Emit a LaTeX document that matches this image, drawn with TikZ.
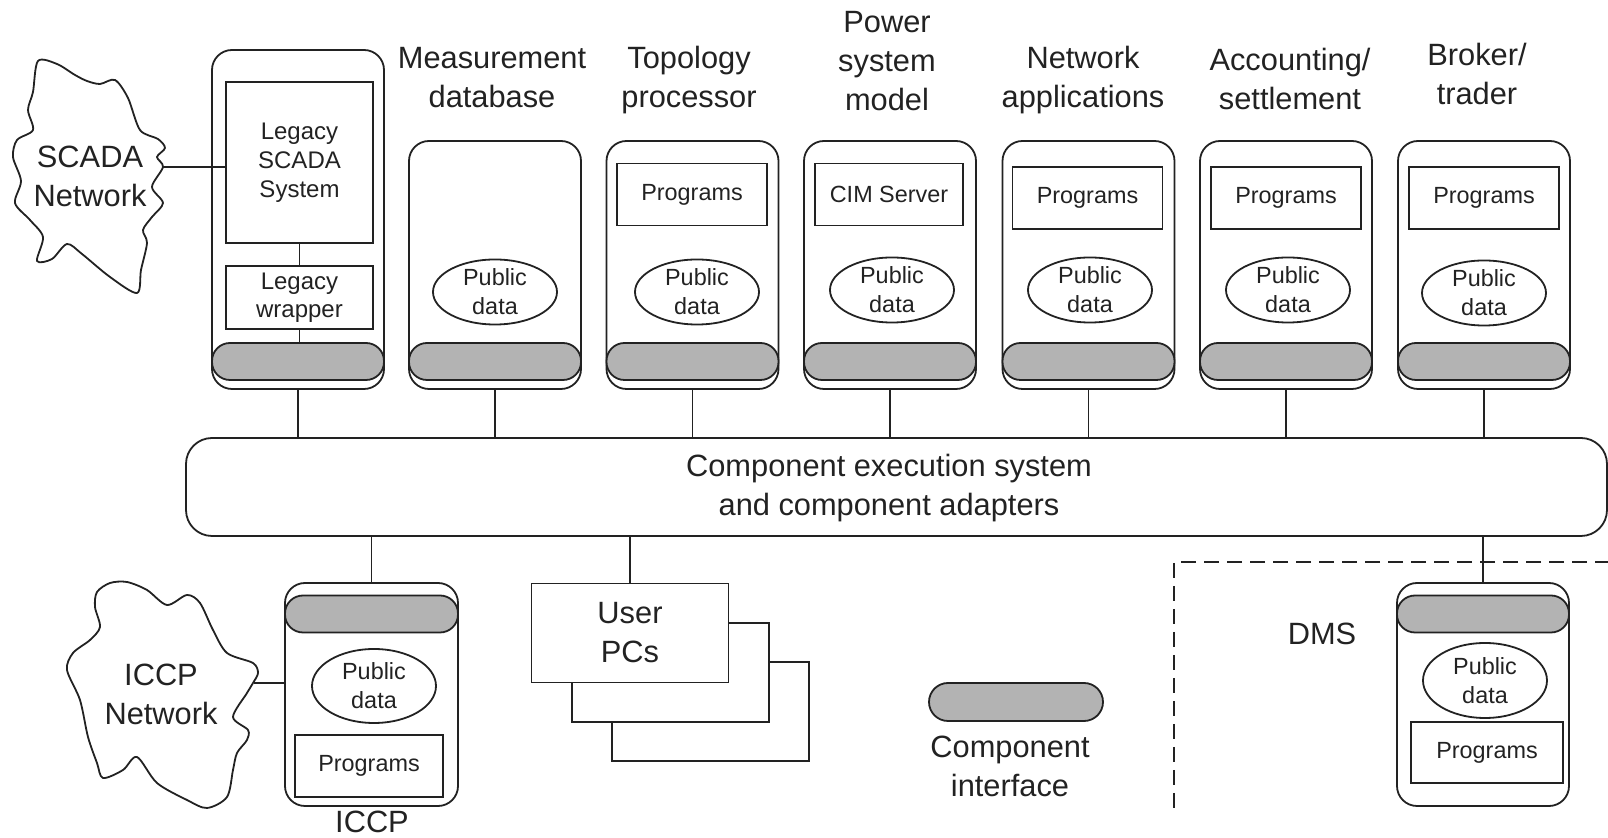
\documentclass[tikz,border=0pt]{standalone}
\usepackage{fontspec}
\setmainfont{Liberation Sans}
\usetikzlibrary{shapes.geometric}
\definecolor{ink}{HTML}{222222}
\definecolor{pillgray}{HTML}{B3B3B3}
\tikzset{
  big/.style={font=\fontsize{15.4}{19.5}\selectfont, align=center, inner sep=0pt},
  small/.style={font=\fontsize{11.7}{14.4}\selectfont, align=center},
  legtext/.style={font=\fontsize{12}{14.6}\selectfont, align=center},
  compbox/.style={draw, rectangle, rounded corners=10pt, minimum width=86pt, inner sep=0pt, outer sep=0pt},
  pill/.style={draw, fill=pillgray, rectangle, rounded corners=9pt, minimum width=86pt, minimum height=18.5pt, inner sep=0pt, outer sep=0pt},
  pubdata/.style={draw, ellipse, small, minimum width=62pt, minimum height=31pt, inner sep=0pt, outer sep=0pt},
  progbox/.style={draw, rectangle, small, minimum width=75pt, minimum height=31pt, inner sep=0pt, outer sep=0pt},
  pcbox/.style={draw, fill=white, rectangle, minimum width=98.5pt, minimum height=49.5pt, inner sep=0pt, outer sep=0pt},
  cloudline/.style={line join=round},
}
\begin{document}
\begin{tikzpicture}[x=0.5pt,y=-0.5pt, line width=0.9pt, color=ink]
\useasboundingbox (0,0) rectangle (1608,838);

% ---------- bus ----------
\node[draw, rectangle, rounded corners=13pt, minimum width=710.5pt, minimum height=49pt, inner sep=0pt, outer sep=0pt] (bus) at (896.5,487) {};
\node[big, anchor=north] (bustext) at (889,453) {Component execution system\\and component adapters};

% ---------- SCADA cloud ----------
\draw[cloudline] plot[smooth cycle, tension=0.5] coordinates {
  (38,61) (57,64) (75,75) (87,81) (100,84) (115,80) (128,98) (140,130) (158,139) (165,148)
  (157,157) (163,167) (152,187) (163,203) (152,217) (143,230) (147,243) (141,270) (137,293)
  (110,277) (82,254) (67,244) (52,259) (37,261) (43,237) (30,220) (15,203) (21,181) (13,157)
  (17,140) (33,130) (28,110) (33,92)};
\node[big, anchor=north] (scadatext) at (90,145) {SCADA\\Network};
\coordinate (scadaR) at (162,167);

% ---------- top components ----------
% Legacy
\node[compbox, minimum height=169.5pt] (legacy) at (298,219.5) {};
\node[pill] (legacyif) at (298,361.5) {};
\node[draw, rectangle, legtext, minimum width=73.5pt, minimum height=80.5pt, inner sep=0pt, outer sep=0pt] (scada) at (299.5,162.5) {Legacy\\SCADA\\System};
\node[draw, rectangle, font=\fontsize{12}{14}\selectfont, align=center, minimum width=73.5pt, minimum height=31.5pt, inner sep=0pt, outer sep=0pt] (wrapper) at (299.5,297.5) {Legacy\\wrapper};
\draw (scada.south) -- (wrapper.north);
\draw (wrapper.south) -- (wrapper.south |- legacyif.north);
\draw (scadaR) -- (scadaR -| scada.west);

% Measurement database
\node[compbox, minimum height=124pt] (meas) at (495,265) {};
\node[pill] (measif) at (495,361.5) {};
\node[pubdata] (measpd) at (495,292) {Public\\data};
\node[big, anchor=north] (meastitle) at (492,46.5) {Measurement\\database};

% Topology processor
\node[compbox, minimum height=124pt] (topo) at (692.5,265) {};
\node[pill] (topoif) at (692.5,361.5) {};
\node[progbox] (topoprog) at (692,194.5) {Programs};
\node[pubdata] (topopd) at (697,292) {Public\\data};
\node[big, anchor=north] (topotitle) at (689,45.5) {Topology\\processor};

% Power system model
\node[compbox, minimum height=124pt] (power) at (890,265) {};
\node[pill] (powerif) at (890,361.5) {};
\node[progbox, minimum width=74pt] (cim) at (889,194.5) {CIM Server};
\node[pubdata] (powerpd) at (892,290) {Public\\data};
\node[big, anchor=north] (powertitle) at (887,10.5) {Power\\system\\model};

% Network applications
\node[compbox, minimum height=124pt] (netapp) at (1088.5,265) {};
\node[pill] (netappif) at (1088.5,361.5) {};
\node[progbox] (netappprog) at (1087.5,198) {Programs};
\node[pubdata] (netapppd) at (1090,290) {Public\\data};
\node[big, anchor=north] (netapptitle) at (1083,45.5) {Network\\applications};

% Accounting / settlement
\node[compbox, minimum height=124pt] (acct) at (1286,265) {};
\node[pill] (acctif) at (1286,361.5) {};
\node[progbox] (acctprog) at (1286,198) {Programs};
\node[pubdata] (acctpd) at (1288,290) {Public\\data};
\node[big, anchor=north] (accttitle) at (1290,47.5) {Accounting/\\settlement};

% Broker / trader
\node[compbox, minimum height=124pt] (broker) at (1484,265) {};
\node[pill] (brokerif) at (1484,361.5) {};
\node[progbox] (brokerprog) at (1484,198) {Programs};
\node[pubdata] (brokerpd) at (1484,293) {Public\\data};
\node[big, anchor=north] (brokertitle) at (1477,42.5) {Broker/\\trader};

% connectors to bus
\foreach \n in {legacy,meas,topo,power,netapp,acct,broker}
  \draw (\n.south) -- (\n.south |- bus.north);

% ---------- ICCP ----------
\draw[cloudline] plot[smooth cycle, tension=0.5] coordinates {
  (97,592) (110,583) (127,582) (147,590) (167,605) (187,595) (200,603) (213,630) (227,653)
  (253,663) (258,673) (253,683) (247,693) (233,717) (248,730) (247,740) (237,753) (233,770)
  (227,797) (207,808) (187,800) (157,783) (137,757) (123,770) (103,778) (97,763) (88,737)
  (80,700) (67,670) (73,653) (90,640) (100,627) (95,607)};
\node[big, anchor=north] (iccptext) at (161,663) {ICCP\\Network};
\coordinate (iccpR) at (254,683);

\node[compbox, minimum width=86.5pt, minimum height=111.5pt] (iccp) at (371.5,694.5) {};
\node[pill, minimum width=86.5pt] (iccpif) at (371.5,614) {};
\node[pubdata, minimum height=37pt] (iccppd) at (374,686) {Public\\data};
\node[progbox, minimum width=74pt] (iccpprog) at (369,766) {Programs};
\node[big, anchor=north] (iccplabel) at (372,810) {ICCP};
\draw (iccp.north |- bus.south) -- (iccp.north);
\draw (iccpR) -- (iccpR -| iccp.west);

% ---------- User PCs ----------
\node[pcbox] (pc3) at (710.5,711.5) {};
\node[pcbox] (pc2) at (670.5,672.5) {};
\node[pcbox, big] (pcs) at (630,633) {User\\PCs};
\draw (pcs.north |- bus.south) -- (pcs.north);

% ---------- legend ----------
\node[pill, minimum width=87pt, minimum height=19pt, rounded corners=9.5pt] (legend) at (1016,702) {};
\node[big, anchor=north] (legendtext) at (1010,735) {Component\\interface};

% ---------- DMS ----------
\draw[dash pattern=on 7.5pt off 4pt] (1610,562) -- (1174,562) -- (1174,815);
\node[big] (dmstext) at (1322,634) {DMS};
\node[compbox, minimum height=111.5pt] (dms) at (1483,694.5) {};
\node[pill] (dmsif) at (1483,614) {};
\node[pubdata, minimum height=37.5pt] (dmspd) at (1485,680.5) {Public\\data};
\node[progbox, minimum width=76pt, minimum height=30.5pt] (dmsprog) at (1487,752.5) {Programs};
\draw (dms.north |- bus.south) -- (dms.north);
\end{tikzpicture}
\end{document}
